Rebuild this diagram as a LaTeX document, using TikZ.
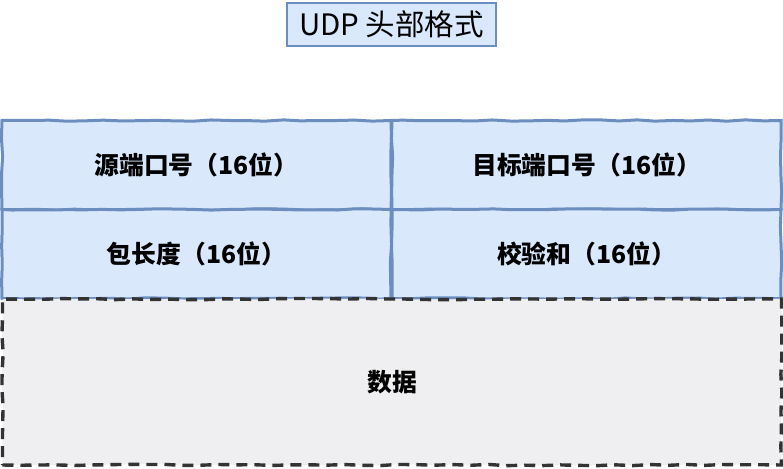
\documentclass[tikz,border=0pt]{standalone}
\usepackage{fontspec}
\setmainfont{Noto Sans CJK SC}
\newfontfamily\cjk{Noto Sans CJK SC}
\usetikzlibrary{decorations.pathmorphing}
\definecolor{cellfill}{HTML}{DAE8FC}
\definecolor{cellline}{HTML}{6C8EBF}
\definecolor{datafill}{HTML}{EFEFF1}
\definecolor{dataline}{HTML}{333333}
\tikzset{
  x=1pt, y=-1pt,
  sketch/.style={decorate, decoration={random steps, segment length=18pt, amplitude=0.7pt}},
  titlebox/.style={draw=cellline, fill=cellfill, line width=1.4pt, inner sep=0pt,
    minimum width=209pt, minimum height=43pt, font=\cjk\fontsize{29.5}{34}\selectfont},
  cellbox/.style={draw=cellline, fill=cellfill, line width=3pt, sketch, inner sep=0pt,
    minimum width=389pt, minimum height=89pt},
  celltext/.style={font=\cjk\bfseries\fontsize{24.8}{28}\selectfont, text=black},
  databox/.style={draw=dataline, fill=datafill, line width=3.4pt, dash pattern=on 11pt off 7pt,
    sketch, inner sep=0pt, minimum width=779pt, minimum height=166pt}
}
\begin{document}
\begin{tikzpicture}
\useasboundingbox (0,0) rectangle (783,468);
\node[titlebox] (title) at (391.5,24.5) {UDP 头部格式};
\node[cellbox] (src) at (196.5,165) {};
\node[cellbox] (dst) at (586.5,165) {};
\node[cellbox] (len) at (196.5,254) {};
\node[cellbox] (chk) at (586.5,254) {};
\node[databox] (data) at (392,382) {};
\node[celltext] at (src.center) {源端口号（16位）};
\node[celltext] at (dst.center) {目标端口号（16位）};
\node[celltext] at (len.center) {包长度（16位）};
\node[celltext] at (chk.center) {校验和（16位）};
\node[celltext] at (data.center) {数据};
\end{tikzpicture}
\end{document}
